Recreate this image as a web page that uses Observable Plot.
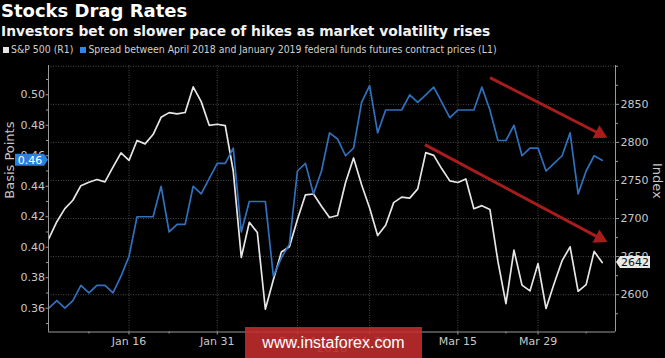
<!DOCTYPE html>
<html>
<head>
<meta charset="utf-8">
<script src="https://cdn.jsdelivr.net/npm/d3@7"></script>
<script src="https://cdn.jsdelivr.net/npm/@observablehq/plot@0.6"></script>
<style>
  html, body { margin: 0; padding: 0; background: #000; }
  body { width: 665px; height: 358px; overflow: hidden; position: relative; font-family: "DejaVu Sans", sans-serif; }
  #chart { position: absolute; left: 0; top: 0; }
  #title { position: absolute; left: 1px; top: 2px; font: bold 18px/18px "DejaVu Sans", sans-serif; color: #fff; white-space: nowrap; }
  #subtitle { position: absolute; left: 1px; top: 24px; font: bold 13.8px/14px "DejaVu Sans", sans-serif; color: #f2f2f2; white-space: nowrap; }
  #legend { position: absolute; left: 3px; top: 43px; font: 10.4px/12px "DejaVu Sans Condensed", "DejaVu Sans", sans-serif; font-stretch: condensed; color: #d0d0d0; white-space: nowrap; }
  #legend .item { display: inline-block; margin-right: 7px; }
  #legend .sw { display: inline-block; width: 6px; height: 6px; margin-right: 2px; vertical-align: 0px; }
  #wm { position: absolute; left: 245px; top: 327px; width: 177px; height: 31px; background: rgba(196, 44, 44, 0.88); color: #fff; font: 16px/31px "Liberation Sans", Arial, sans-serif; text-align: center; }
</style>
</head>
<body>
<div id="chart"></div>
<div id="title">Stocks Drag Rates</div>
<div id="subtitle">Investors bet on slower pace of hikes as market volatility rises</div>
<div id="legend"></div>
<div id="wm">www.instaforex.com</div>
<script>
// ---------- data ----------
const dates = [
  "2017-12-29",
  "2018-01-02","2018-01-03","2018-01-04","2018-01-05","2018-01-08","2018-01-09","2018-01-10","2018-01-11","2018-01-12",
  "2018-01-16","2018-01-17","2018-01-18","2018-01-19","2018-01-22","2018-01-23","2018-01-24","2018-01-25","2018-01-26",
  "2018-01-29","2018-01-30","2018-01-31",
  "2018-02-01","2018-02-02","2018-02-05","2018-02-06","2018-02-07","2018-02-08","2018-02-09","2018-02-12","2018-02-13",
  "2018-02-14","2018-02-15","2018-02-16","2018-02-20","2018-02-21","2018-02-22","2018-02-23","2018-02-26","2018-02-27",
  "2018-02-28",
  "2018-03-01","2018-03-02","2018-03-05","2018-03-06","2018-03-07","2018-03-08","2018-03-09","2018-03-12","2018-03-13",
  "2018-03-14","2018-03-15","2018-03-16","2018-03-19","2018-03-20","2018-03-21","2018-03-22","2018-03-23","2018-03-26",
  "2018-03-27","2018-03-28","2018-03-29",
  "2018-04-02","2018-04-03","2018-04-04","2018-04-05","2018-04-06","2018-04-09","2018-04-10","2018-04-11"
];

// S&P 500 (R1), index
const spx = [
  2673.61,
  2695.81, 2713.06, 2723.99, 2743.15, 2747.71, 2751.29, 2748.23, 2767.56, 2786.24,
  2776.42, 2802.56, 2798.03, 2810.30, 2832.97, 2839.13, 2837.54, 2839.25, 2872.87,
  2853.53, 2822.43, 2823.81,
  2821.98, 2762.13, 2648.94, 2695.14, 2681.66, 2581.00, 2619.55, 2656.00, 2662.94,
  2698.63, 2731.20, 2732.22, 2716.26, 2701.33, 2703.96, 2747.30, 2779.60, 2744.28,
  2713.83,
  2677.67, 2691.25, 2720.94, 2728.12, 2726.80, 2738.97, 2786.57, 2783.02, 2765.31,
  2749.48, 2747.33, 2752.01, 2712.92, 2716.94, 2711.93, 2643.69, 2588.26, 2658.55,
  2612.62, 2605.00, 2640.87,
  2581.88, 2614.45, 2644.69, 2662.84, 2604.47, 2613.16, 2656.87, 2642.19
];

// Spread between April 2018 and January 2019 fed funds futures (L1), basis points
const spread = [
  0.360,
  0.365, 0.360, 0.365, 0.375, 0.370, 0.375, 0.375, 0.370, 0.381,
  0.394, 0.420, 0.420, 0.420, 0.440, 0.410, 0.415, 0.415, 0.440,
  0.435, 0.445, 0.455,
  0.455, 0.465, 0.410, 0.430, 0.430, 0.430, 0.381, 0.393, 0.402,
  0.450, 0.455, 0.435, 0.450, 0.475, 0.471, 0.460, 0.465, 0.495,
  0.506,
  0.475, 0.490, 0.490, 0.490, 0.500, 0.495, 0.500, 0.505, 0.495,
  0.485, 0.490, 0.490, 0.490, 0.505, 0.490, 0.470, 0.470, 0.480,
  0.460, 0.465, 0.465,
  0.450, 0.455, 0.460, 0.475, 0.435, 0.450, 0.460, 0.457
];

const seriesNames = ["S&P 500 (R1)", "Spread between April 2018 and January 2019 federal funds futures contract prices (L1)"];
const seriesColors = ["#e6e6e6", "#2f86e4"];

const xTickDates = ["2018-01-16","2018-01-31","2018-02-14","2018-02-28","2018-03-15","2018-03-29"];
const xTickLabels = ["Jan 16","Jan 31","Feb 14","Feb 28","Mar 15","Mar 29"];
const xMinorDates = ["2018-01-08","2018-01-23","2018-02-07","2018-02-21","2018-03-08","2018-03-23","2018-04-09"];
const yearLabel = ["2018"];

const leftTicks = [0.36, 0.38, 0.40, 0.42, 0.44, 0.46, 0.48, 0.50];
const leftMinor = [0.35, 0.37, 0.39, 0.41, 0.43, 0.45, 0.47, 0.49, 0.51];
const rightTicks = [2600, 2650, 2700, 2750, 2800, 2850];
const rightMinor = [2575, 2625, 2675, 2725, 2775, 2825, 2875, 2900];

// trend arrows (x as trading-day index, y in each series' own units)
const spreadArrow = [{x1: 55.0, y1: 0.5113, x2: 69.1, y2: 0.4733}];
const spxArrow = [{x1: 46.9, y1: 2797, x2: 69.1, y2: 2672}];

// ---------- scales ----------
const leftDomain = [0.3444, 0.5192];
const rightDomain = [2551, 2901];
const xDomain = [-0.04, 70.66];
const toRight = d3.scaleLinear(leftDomain, rightDomain);
const idx = d => dates.indexOf(d);
const xTicks = xTickDates.map(idx);
const xMinor = xMinorDates.map(idx);

// ---------- legend ----------
const legend = d3.select("#legend");
seriesNames.forEach((name, i) => {
  const it = legend.append("span").attr("class", "item");
  it.append("span").attr("class", "sw").style("background", seriesColors[i]);
  it.append("span").text(name);
});

// ---------- chart ----------
const gridStyle = {stroke: "#4a4a4a", strokeOpacity: 1, strokeDasharray: "1,1.5"};
const axisColor = "#9a9a9a";
const textColor = "#c8c8c8";
const arrowColor = "#a81c1c";
const arrowSpread = spreadArrow.map(d => ({x1: d.x1, y1: toRight(d.y1), x2: d.x2, y2: toRight(d.y2)}));
const arrowsAll = [...arrowSpread, ...spxArrow];

const plot = Plot.plot({
  width: 665,
  height: 358,
  marginTop: 65,
  marginBottom: 26.5,
  marginLeft: 48,
  marginRight: 50,
  style: {background: "#000", color: textColor, fontFamily: "'DejaVu Sans', sans-serif", fontSize: "11px"},
  x: {domain: xDomain},
  y: {domain: rightDomain},
  marks: [
    Plot.gridY([...rightTicks, rightMinor[rightMinor.length - 1]], gridStyle),
    Plot.gridX(xTicks, gridStyle),
    Plot.line(spx, {x: (d, i) => i, y: d => d, stroke: seriesColors[0], strokeWidth: 1.7}),
    Plot.line(spread, {x: (d, i) => i, y: d => toRight(d), stroke: "#3070bd", strokeWidth: 1.7}),
    Plot.link(arrowsAll, {x1: "x1", y1: "y1", x2: "x2", y2: "y2", stroke: arrowColor, strokeWidth: 3}),
    Plot.dot(arrowsAll, {x: "x2", y: "y2", symbol: "triangle", r: 5.5, fill: arrowColor, stroke: "none", rotate: 117.5, dx: -3.2, dy: -1.7}),
    // frame lines (left, right, bottom)
    Plot.ruleX([xDomain[0]], {stroke: axisColor}),
    Plot.ruleX([xDomain[1]], {stroke: axisColor}),
    Plot.ruleY([rightDomain[0]], {stroke: axisColor}),
    // right axis (S&P 500)
    Plot.axisY(rightTicks, {anchor: "right", tickSize: 3, tickPadding: 2, stroke: axisColor, fill: textColor, tickFormat: d => String(d), label: null}),
    Plot.axisY(rightMinor, {anchor: "right", tickSize: 2, stroke: axisColor, fill: "none", label: null}),
    // left axis (spread)
    Plot.axisY(leftTicks.map(toRight), {anchor: "left", tickSize: 2.5, tickPadding: 1, stroke: axisColor, fill: textColor, tickFormat: d => toRight.invert(d).toFixed(2), label: null}),
    Plot.axisY(leftMinor.map(toRight), {anchor: "left", tickSize: 2, stroke: axisColor, fill: "none", label: null}),
    // bottom axis
    Plot.axisX(xTicks, {anchor: "bottom", tickSize: 3, tickPadding: 2, stroke: axisColor, fill: textColor, tickFormat: d => xTickLabels[xTicks.indexOf(d)], label: null}),
    Plot.axisX(xMinor, {anchor: "bottom", tickSize: 2, stroke: axisColor, fill: "none", label: null}),
    Plot.text(yearLabel, {frameAnchor: "bottom", dy: 20, fill: "#9a9a9a", fontSize: 12}),
    // axis titles
    Plot.text(["Basis Points"], {frameAnchor: "left", rotate: -90, dx: -39, fill: textColor, fontSize: 13}),
    Plot.text(["Index"], {frameAnchor: "right", rotate: 90, dx: 42, fill: textColor, fontSize: 13})
  ]
});

document.getElementById("chart").appendChild(plot);

// ---------- last-value tags ----------
const svg = d3.select(plot);
const yS = plot.scale("y");
const xS = plot.scale("x");
const xLeft = xS.apply(xDomain[0]);
const xRight = xS.apply(xDomain[1]);

const lastSpread = spread[spread.length - 1];
const yl = yS.apply(toRight(lastSpread));
const gl = svg.append("g");
gl.append("path")
  .attr("d", `M${xLeft - 33},${yl - 6} L${xLeft - 4},${yl - 6} L${xLeft},${yl} L${xLeft - 4},${yl + 6} L${xLeft - 33},${yl + 6} Z`)
  .attr("fill", "#2a80de");
gl.append("text")
  .attr("x", xLeft - 18).attr("y", yl).attr("dy", "0.35em")
  .attr("text-anchor", "middle").attr("fill", "#fff")
  .style("font", "11px 'DejaVu Sans', sans-serif")
  .text(lastSpread.toFixed(2));

const lastSpx = spx[spx.length - 1];
const yr = yS.apply(lastSpx);
const gr = svg.append("g");
gr.append("path")
  .attr("d", `M${xRight + 1},${yr} L${xRight + 5},${yr - 6} L${xRight + 35},${yr - 6} L${xRight + 35},${yr + 6} L${xRight + 5},${yr + 6} Z`)
  .attr("fill", "#e8e8e8");
gr.append("text")
  .attr("x", xRight + 20).attr("y", yr).attr("dy", "0.35em")
  .attr("text-anchor", "middle").attr("fill", "#111")
  .style("font", "11px 'DejaVu Sans', sans-serif")
  .text(Math.round(lastSpx));
</script>
</body>
</html>
